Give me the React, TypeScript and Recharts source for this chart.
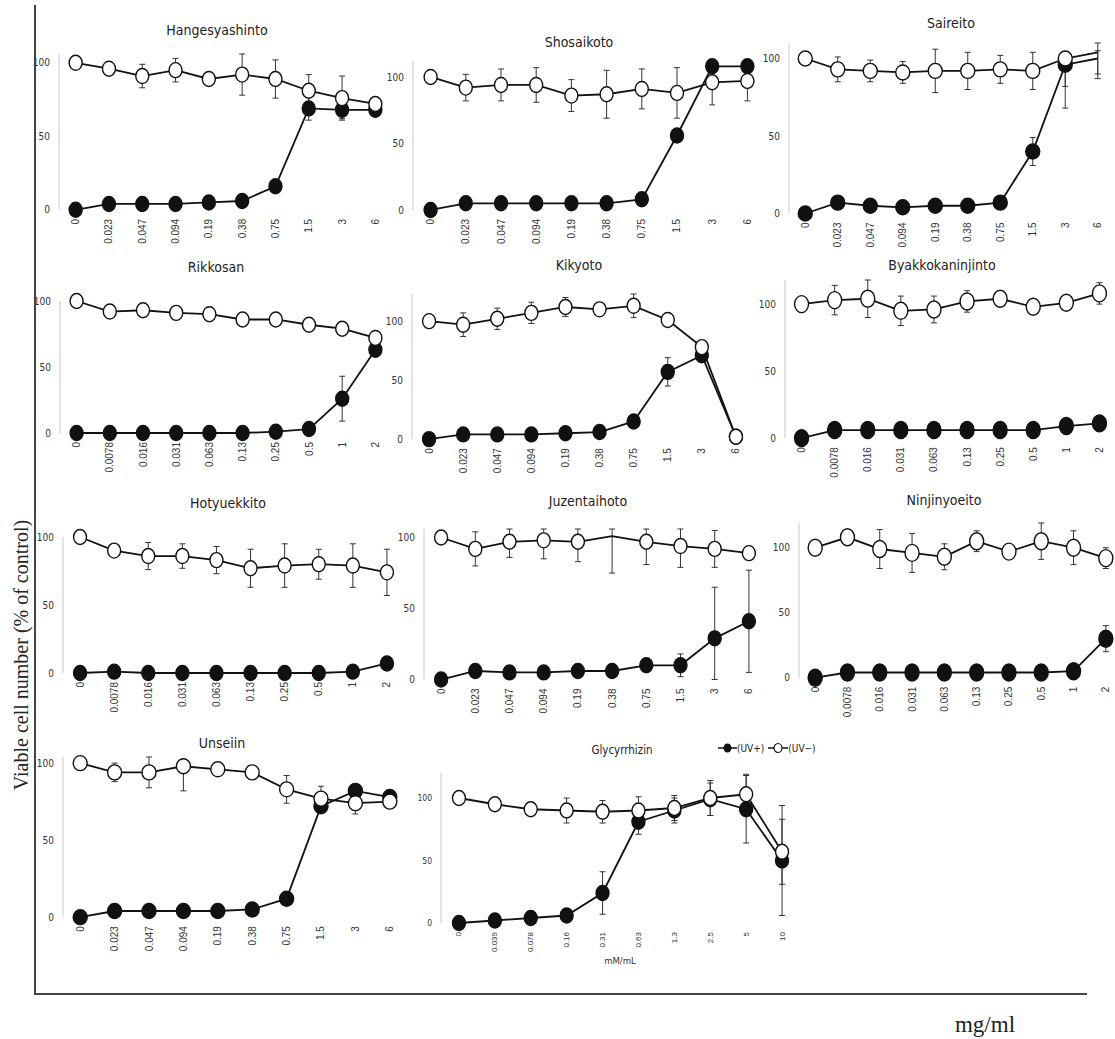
import React from "react";
import { LineChart, Line, XAxis, YAxis, ErrorBar } from "recharts";

type Err = number | [number, number];

const NARROW = '"Liberation Sans Narrow", "DejaVu Sans Condensed", "Liberation Sans", sans-serif';
const SANS = '"Liberation Sans", Arial, sans-serif';
const SERIF = '"Liberation Serif", "Times New Roman", serif';

// dose labels (mg/ml, Glycyrrhizin in mM/mL)
const dosesA = ["0", "0.023", "0.047", "0.094", "0.19", "0.38", "0.75", "1.5", "3", "6"];
const dosesB = ["0", "0.0078", "0.016", "0.031", "0.063", "0.13", "0.25", "0.5", "1", "2"];
const dosesGly = ["0", "0.039", "0.078", "0.16", "0.31", "0.63", "1.3", "2.5", "5", "10"];

// Hangesyashinto
const hangPlus = [0, 4, 4, 4, 5, 6, 16, 69, 68, 68];
const hangPlusErr: Err[] = [0, 0, 0, 0, 0, 0, 2, 8, 6, 2];
const hangMinus = [100, 96, 91, 95, 89, 92, 89, 81, 76, 72];
const hangMinusErr: Err[] = [0, 2, 8, 8, 2, 14, 13, 11, 15, 2];

// Shosaikoto
const shoPlus = [0, 5, 5, 5, 5, 5, 8, 56, 108, 108];
const shoPlusErr: Err[] = [0, 0, 0, 0, 0, 0, 0, 3, 3, 3];
const shoMinus = [100, 92, 94, 94, 86, 87, 91, 88, 96, 97];
const shoMinusErr: Err[] = [0, 10, 12, 13, 12, 18, 15, 19, [17, 10], 15];

// Saireito
const saiPlus = [0, 7, 5, 4, 5, 5, 7, 40, 96, 100];
const saiPlusErr: Err[] = [0, 2, 0, 0, 0, 0, 0, 9, [28, 4], 10];
const saiMinus = [100, 93, 92, 91, 92, 92, 93, 92, 100, 104];
const saiMinusErr: Err[] = [0, 8, 7, 7, 14, 12, 9, 12, [18, 3], [17, 1]];

// Rikkosan
const rikPlus = [0, 0, 0, 0, 0, 0, 1, 3, 26, 63];
const rikPlusErr: Err[] = [0, 0, 0, 0, 0, 0, 0, 0, 17, 2];
const rikMinus = [100, 92, 93, 91, 90, 86, 86, 82, 79, 72];
const rikMinusErr: Err[] = [0, 0, 0, 0, 0, 0, 0, 0, 0, 2];

// Kikyoto
const kikPlus = [0, 4, 4, 4, 5, 6, 15, 57, 71, 2];
const kikPlusErr: Err[] = [0, 0, 0, 0, 0, 0, 0, 12, 5, 0];
const kikMinus = [100, 97, 102, 107, 112, 110, 113, 101, 78, 2];
const kikMinusErr: Err[] = [0, 10, 9, 9, 8, 0, 10, 0, 5, 0];

// Byakkokaninjinto
const byaPlus = [0, 6, 6, 6, 6, 6, 6, 6, 9, 11];
const byaPlusErr: Err[] = [0, 0, 0, 0, 0, 0, 0, 0, 0, 0];
const byaMinus = [100, 103, 104, 95, 96, 102, 104, 98, 101, 108];
const byaMinusErr: Err[] = [0, 11, 14, 11, 10, 8, 6, 0, 0, 8];

// Hotyuekkito
const hotPlus = [0, 1, 0, 0, 0, 0, 0, 0, 1, 7];
const hotPlusErr: Err[] = [0, 0, 0, 0, 0, 0, 0, 0, 0, 0];
const hotMinus = [100, 90, 86, 86, 83, 77, 79, 80, 79, 74];
const hotMinusErr: Err[] = [0, 0, 10, 9, 10, 14, 16, 11, 16, 17];

// Juzentaihoto
const juzPlus = [0, 6, 5, 5, 6, 6, 10, 10, 29, 41];
const juzPlusErr: Err[] = [0, 0, 0, 0, 0, 0, 0, 8, [29, 36], 36];
const juzMinus = [100, 92, 97, 98, 97, 101, 97, 94, 92, 89];
const juzMinusErr: Err[] = [0, 12, [11, 9], [13, 8], [14, 9], [26, 5], [16, 9], [15, 12], 13, 3];

// Ninjinyoeito
const ninPlus = [0, 4, 4, 4, 4, 4, 4, 4, 5, 30];
const ninPlusErr: Err[] = [0, 0, 0, 0, 0, 0, 0, 0, 0, 10];
const ninMinus = [100, 108, 99, 96, 93, 105, 97, 105, 100, 92];
const ninMinusErr: Err[] = [0, 0, 15, 15, 10, 8, 0, 14, 13, 8];

// Unseiin
const unsPlus = [0, 4, 4, 4, 4, 5, 12, 72, 82, 78];
const unsPlusErr: Err[] = [0, 0, 0, 0, 0, 0, 0, 0, 0, 0];
const unsMinus = [100, 94, 94, 98, 96, 94, 83, 77, 74, 75];
const unsMinusErr: Err[] = [0, 6, 10, [16, 2], 0, 0, 9, 8, 7, 0];

// Glycyrrhizin
const glyPlus = [0, 2, 4, 6, 24, 81, 90, 99, 91, 50];
const glyPlusErr: Err[] = [0, 0, 0, 0, 17, 10, 10, 13, 27, 44];
const glyMinus = [100, 95, 91, 90, 89, 90, 92, 100, 103, 57];
const glyMinusErr: Err[] = [0, 0, 0, 10, 9, 11, 10, 14, 16, 26];

const YW = 40;
const MT = 16;
const MR = 14;
const XH = 50;

type PanelProps = {
  title: string;
  doses: string[];
  plus: number[];
  plusErr: Err[];
  minus: number[];
  minusErr: Err[];
  left: number;
  right: number;
  y0: number;
  y100: number;
  max: number;
  tx: number;
  ty: number;
  rx?: number;
  ry?: number;
  noDotPlus?: number[];
  noDotMinus?: number[];
  small?: boolean;
};

const upper = (v: number, e: Err) => v + (Array.isArray(e) ? e[1] : e);

function Panel(p: PanelProps) {
  const rx = p.rx ?? 6.5;
  const ry = p.ry ?? 7.5;
  const n = p.doses.length;
  const hi = Math.max(
    p.max,
    ...p.plus.map((v, i) => upper(v, p.plusErr[i])),
    ...p.minus.map((v, i) => upper(v, p.minusErr[i]))
  );
  const k = (p.y0 - p.y100) / 100;
  const plotH = hi * k;
  const plotTop = p.y0 - plotH;
  const plotW = p.right - p.left;
  const data = p.doses.map((d, i) => ({
    i,
    dose: d,
    plus: p.plus[i],
    plusErr: p.plusErr[i],
    minus: p.minus[i],
    minusErr: p.minusErr[i],
  }));
  const bounds = p.doses.map((_, i) => i - 0.5).concat(n - 0.5);
  const xfs = p.small ? 8 : 10;
  const yfs = p.small ? 8.5 : 10;

  // open / filled circles, some points in the original have no marker
  const dot = (fill: string, skip: number[]) => (d: any) => {
    if (skip.includes(d.index) || d.cx == null) return <g key={`d${d.index}`} />;
    return (
      <ellipse key={`d${d.index}`} cx={d.cx} cy={d.cy} rx={rx} ry={ry} fill={fill} stroke="#111" strokeWidth={1.4} />
    );
  };

  return (
    <>
      <div
        style={{
          position: "absolute",
          left: p.tx - 100,
          top: p.ty - 10,
          width: 200,
          height: 20,
          lineHeight: "20px",
          textAlign: "center",
          fontFamily: NARROW,
          fontSize: p.small ? 11.5 : 14,
          color: "#222",
        }}
      >
        {p.title}
      </div>
      <div style={{ position: "absolute", left: p.left - YW, top: plotTop - MT }}>
        <LineChart
          width={YW + plotW + MR}
          height={MT + plotH + XH}
          data={data}
          margin={{ top: MT, right: MR, bottom: 0, left: 0 }}
        >
          <XAxis
            xAxisId="g"
            type="number"
            domain={[-0.5, n - 0.5]}
            ticks={bounds}
            tick={false}
            tickSize={4}
            height={0}
            allowDataOverflow
            axisLine={{ stroke: "#c8c8c8" }}
            tickLine={{ stroke: "#c8c8c8" }}
          />
          <XAxis
            xAxisId="lab"
            dataKey="i"
            type="number"
            domain={[-0.5, n - 0.5]}
            ticks={p.doses.map((_, i) => i)}
            interval={0}
            height={XH}
            axisLine={false}
            tickLine={false}
            tickSize={0}
            tickMargin={9}
            tick={(t: any) => (
              <text
                x={t.x}
                y={t.y}
                transform={`rotate(-90 ${t.x} ${t.y})`}
                textAnchor="end"
                dominantBaseline="central"
                fontSize={xfs}
                fontFamily={SANS}
                fill="#333"
              >
                {p.doses[t.payload.value]}
              </text>
            )}
          />
          <YAxis
            type="number"
            domain={[0, hi]}
            ticks={[0, 50, 100]}
            width={YW}
            axisLine={{ stroke: "#c8c8c8" }}
            tickLine={false}
            tickSize={0}
            tickMargin={9}
            tick={{ fontSize: yfs, fontFamily: NARROW, fill: "#333" }}
          />
          <Line
            xAxisId="lab"
            type="linear"
            dataKey="plus"
            stroke="#111"
            strokeWidth={1.8}
            dot={dot("#111", p.noDotPlus ?? [])}
            activeDot={false}
            isAnimationActive={false}
          >
            <ErrorBar dataKey="plusErr" direction="y" width={3} stroke="#333" strokeWidth={1} />
          </Line>
          <Line
            xAxisId="lab"
            type="linear"
            dataKey="minus"
            stroke="#111"
            strokeWidth={1.8}
            dot={dot("#fff", p.noDotMinus ?? [])}
            activeDot={false}
            isAnimationActive={false}
          >
            <ErrorBar dataKey="minusErr" direction="y" width={3} stroke="#333" strokeWidth={1} />
          </Line>
        </LineChart>
      </div>
    </>
  );
}

function Legend() {
  return (
    <div
      style={{
        position: "absolute",
        left: 718,
        top: 741,
        height: 14,
        display: "flex",
        alignItems: "center",
        fontFamily: NARROW,
        fontSize: 10,
        color: "#222",
        whiteSpace: "nowrap",
      }}
    >
      <svg width={19} height={12}>
        <line x1={0} y1={6} x2={19} y2={6} stroke="#111" strokeWidth={1.5} />
        <ellipse cx={9.5} cy={6} rx={4} ry={4.5} fill="#111" />
      </svg>
      <span>(UV+)</span>
      <svg width={20} height={12} style={{ marginLeft: 4 }}>
        <line x1={0} y1={6} x2={20} y2={6} stroke="#111" strokeWidth={1.5} />
        <ellipse cx={10} cy={6} rx={4} ry={4.5} fill="#fff" stroke="#111" strokeWidth={1.2} />
      </svg>
      <span>(UV−)</span>
    </div>
  );
}

export default function App() {
  return (
    <div
      style={{
        position: "absolute",
        left: 0,
        top: 0,
        width: 1115,
        height: 1039,
        overflow: "hidden",
        background: "#fff",
      }}
    >
      <Panel title="Hangesyashinto" doses={dosesA} plus={hangPlus} plusErr={hangPlusErr} minus={hangMinus} minusErr={hangMinusErr}
        left={59} right={392} y0={210} y100={63} max={100} tx={217} ty={30} />
      <Panel title="Shosaikoto" doses={dosesA} plus={shoPlus} plusErr={shoPlusErr} minus={shoMinus} minusErr={shoMinusErr}
        left={413} right={765} y0={210} y100={77} max={110} tx={579} ty={42} />
      <Panel title="Saireito" doses={dosesA} plus={saiPlus} plusErr={saiPlusErr} minus={saiMinus} minusErr={saiMinusErr}
        left={789} right={1114} y0={213} y100={58} max={105} tx={951} ty={23} rx={7} noDotPlus={[9]} noDotMinus={[9]} />
      <Panel title="Rikkosan" doses={dosesB} plus={rikPlus} plusErr={rikPlusErr} minus={rikMinus} minusErr={rikMinusErr}
        left={60} right={392} y0={433} y100={301} max={100} tx={216} ty={267} />
      <Panel title="Kikyoto" doses={dosesA} plus={kikPlus} plusErr={kikPlusErr} minus={kikMinus} minusErr={kikMinusErr}
        left={412} right={753} y0={439} y100={321} max={120} tx={579} ty={265} />
      <Panel title="Byakkokaninjinto" doses={dosesB} plus={byaPlus} plusErr={byaPlusErr} minus={byaMinus} minusErr={byaMinusErr}
        left={785} right={1116} y0={438} y100={304} max={110} tx={942} ty={265} rx={7} ry={8.5} />
      <Panel title="Hotyuekkito" doses={dosesB} plus={hotPlus} plusErr={hotPlusErr} minus={hotMinus} minusErr={hotMinusErr}
        left={63} right={404} y0={673} y100={537} max={100} tx={228} ty={503} />
      <Panel title="Juzentaihoto" doses={dosesA} plus={juzPlus} plusErr={juzPlusErr} minus={juzMinus} minusErr={juzMinusErr}
        left={424} right={766} y0={680} y100={538} max={106} tx={588} ty={501} noDotMinus={[5]} />
      <Panel title="Ninjinyoeito" doses={dosesB} plus={ninPlus} plusErr={ninPlusErr} minus={ninMinus} minusErr={ninMinusErr}
        left={799} right={1122} y0={678} y100={548} max={110} tx={944} ty={500} rx={7} ry={8.5} />
      <Panel title="Unseiin" doses={dosesA} plus={unsPlus} plusErr={unsPlusErr} minus={unsMinus} minusErr={unsMinusErr}
        left={63} right={407} y0={917} y100={763} max={100} tx={222} ty={743} rx={7} />
      <Panel title="Glycyrrhizin" doses={dosesGly} plus={glyPlus} plusErr={glyPlusErr} minus={glyMinus} minusErr={glyMinusErr}
        left={441} right={800} y0={923} y100={798} max={120} tx={622} ty={750} small />
      <div style={{ position: "absolute", left: 580, top: 955, width: 80, textAlign: "center", fontFamily: NARROW, fontSize: 9.5, color: "#333" }}>
        mM/mL
      </div>
      <Legend />
      <svg width={1115} height={1039} style={{ position: "absolute", left: 0, top: 0, pointerEvents: "none" }}>
        <line x1={35} y1={5} x2={35} y2={995} stroke="#444" strokeWidth={2} />
        <line x1={34} y1={994} x2={1087} y2={994} stroke="#444" strokeWidth={2} />
        <text x={21} y={655} transform="rotate(-90 21 655)" textAnchor="middle" dominantBaseline="central" fontFamily={SERIF} fontSize={20} fill="#222">
          Viable cell number (% of control)
        </text>
        <text x={985} y={1024} textAnchor="middle" dominantBaseline="central" fontFamily={SERIF} fontSize={23} fill="#222">
          mg/ml
        </text>
      </svg>
    </div>
  );
}
